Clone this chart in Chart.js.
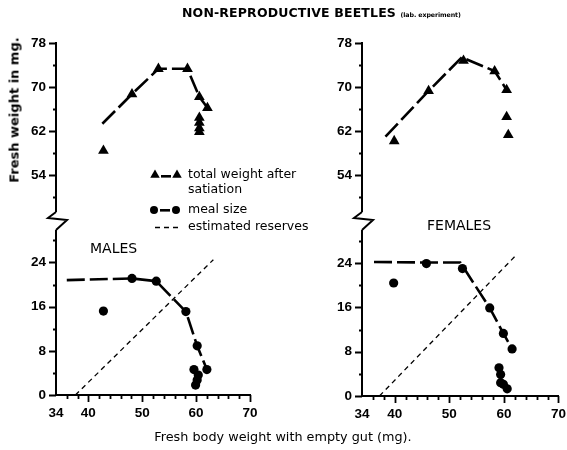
<!DOCTYPE html>
<html>
<head>
<meta charset="utf-8">
<script src="https://cdn.jsdelivr.net/npm/chart.js@4.4.1/dist/chart.umd.min.js"></script>
<style>
  html, body { margin: 0; padding: 0; background: #fff; overflow: hidden; }
  body { position: relative; width: 567px; height: 450px; overflow: hidden; font-family: "DejaVu Sans", sans-serif; color: #000; }
  canvas { position: absolute; top: 0; }
  #males { left: 0; }
  #females { left: 300px; }
  .t { position: absolute; white-space: nowrap; line-height: 1; }
</style>
</head>
<body>
<canvas id="males" width="330" height="450"></canvas>
<canvas id="females" width="276" height="450"></canvas>

<div class="t" style="left:182px;top:7px;font-size:12.5px;font-weight:bold;letter-spacing:0.15px;">NON-REPRODUCTIVE BEETLES <span style="font-size:6.3px;font-weight:bold;letter-spacing:-0.1px;">(lab. experiment)</span></div>
<div class="t" style="left:14px;top:110px;font-size:13px;font-weight:bold;transform:translate(-50%,-50%) rotate(-90deg);">Fresh weight in mg.</div>
<div class="t" style="left:283px;top:437px;font-size:12.8px;transform:translate(-50%,-50%);">Fresh body weight with empty gut (mg).</div>

<div class="t" style="left:188px;top:168px;font-size:12.5px;">total weight after</div>
<div class="t" style="left:188px;top:183px;font-size:12.5px;">satiation</div>
<div class="t" style="left:188px;top:203px;font-size:12.5px;">meal size</div>
<div class="t" style="left:188px;top:220px;font-size:12.5px;">estimated reserves</div>

<div class="t" style="left:90px;top:241px;font-size:14px;">MALES</div>
<div class="t" style="left:427px;top:218px;font-size:14px;">FEMALES</div>

<script>
// Axis ticks and labels
const xTicks = [34, 36, 38, 40, 42, 44, 46, 48, 50, 52, 54, 56, 58, 60, 62, 64, 66, 68, 70];
const xLabels = [34, 40, 50, 60, 70];
const upperTicks = [50, 54, 58, 62, 66, 70, 74, 78];
const upperLabels = [54, 62, 70, 78];
const lowerTicks = [0, 4, 8, 12, 16, 20, 24, 28];
const lowerLabels = [0, 8, 16, 24];

// Males: total weight after satiation (mg)
const maleWeightX = [42.8, 48.1, 53.0, 58.4, 60.6, 62.1, 60.6, 60.6, 60.6, 60.6];
const maleWeightY = [58.4, 68.7, 73.3, 73.3, 68.2, 66.2, 64.4, 63.5, 62.5, 61.8];
const maleWeightFitX = [42.6, 48.1, 53.0, 58.4, 60.6, 62.1];
const maleWeightFitY = [63.3, 68.7, 73.3, 73.3, 68.2, 66.2];
// Males: meal size (mg)
const maleMealX = [42.8, 48.1, 52.6, 58.1, 60.2, 62.0, 59.6, 60.4, 60.2, 59.9];
const maleMealY = [15.2, 21.1, 20.6, 15.1, 8.9, 4.6, 4.6, 3.6, 2.7, 1.8];
const maleMealFitX = [36.0, 48.1, 52.6, 58.1, 60.2, 62.0];
const maleMealFitY = [20.8, 21.1, 20.6, 15.1, 8.9, 4.6];
// Males: estimated reserves
const maleReserveX = [37.6, 63.2];
const maleReserveY = [0, 24.5];

// Females: total weight after satiation (mg)
const femaleWeightX = [39.9, 46.2, 52.6, 58.3, 60.5, 60.5, 60.8];
const femaleWeightY = [60.2, 69.3, 74.8, 72.9, 69.5, 64.6, 61.3];
const femaleWeightFitX = [38.3, 46.2, 52.3, 58.3, 60.5];
const femaleWeightFitY = [61.0, 69.3, 75.4, 72.9, 69.5];
// Females: meal size (mg)
const femaleMealX = [39.8, 45.8, 52.4, 57.4, 59.9, 61.5, 59.1, 59.4, 59.4, 59.9, 60.6];
const femaleMealY = [20.4, 23.9, 23.0, 15.9, 11.3, 8.5, 5.1, 3.9, 2.4, 2.1, 1.3];
const femaleMealFitX = [36.2, 45.8, 52.0, 57.4, 59.9, 61.5];
const femaleMealFitY = [24.2, 24.1, 24.1, 15.9, 11.3, 8.5];
// Females: estimated reserves
const femaleReserveX = [37.2, 62.4];
const femaleReserveY = [0, 25.6];

const pts = (xs, ys) => xs.map((x, i) => ({ x, y: ys[i] }));
const tickFont = { family: '"Liberation Sans", sans-serif', size: 13.5, weight: 'bold' };

// Hand-drawn style tick marks and the broken-axis zigzag
const axisMarks = {
  id: 'axisMarks',
  afterDraw(chart, args, opts) {
    const ctx = chart.ctx;
    const xs = chart.scales.x, yu = chart.scales.yUpper, yl = chart.scales.yLower;
    const ax = chart.chartArea.left;
    const by = xs.top;
    ctx.save();
    ctx.strokeStyle = '#000';
    ctx.lineWidth = 1.8;
    ctx.beginPath();
    xTicks.forEach(v => {
      if (v === 34) return;
      const px = Math.round(xs.getPixelForValue(v)) + 0.5;
      const len = xLabels.includes(v) ? 7 : 4;
      ctx.moveTo(px, by);
      ctx.lineTo(px, by + len);
    });
    upperTicks.forEach(v => {
      const py = Math.round(yu.getPixelForValue(v)) + 0.5;
      const len = upperLabels.includes(v) ? 7 : 3;
      ctx.moveTo(ax, py);
      ctx.lineTo(ax - len, py);
    });
    lowerTicks.forEach(v => {
      const py = Math.round(yl.getPixelForValue(v)) + 0.5;
      const len = lowerLabels.includes(v) ? 7 : 3;
      ctx.moveTo(ax, py);
      ctx.lineTo(ax - len, py);
    });
    ctx.stroke();

    // break in the y axis
    const top = opts.breakTop, bot = opts.breakBottom;
    ctx.fillStyle = '#fff';
    ctx.fillRect(ax - 3, top, 6, bot - top);
    ctx.lineWidth = 2;
    ctx.beginPath();
    ctx.moveTo(ax, top);
    ctx.lineTo(ax - 8, top + 6);
    ctx.lineTo(ax + 11, top + 8);
    ctx.lineTo(ax, bot);
    ctx.stroke();
    ctx.restore();
  }
};

function makePanel(canvasId, d, geom) {
  const fitLine = { showLine: true, pointRadius: 0, borderColor: '#000', borderWidth: 2.6, borderDash: [18, 5], fill: false };
  return new Chart(document.getElementById(canvasId), {
    type: 'scatter',
    data: {
      datasets: [
        Object.assign({ data: pts(d.wFitX, d.wFitY), yAxisID: 'yUpper' }, fitLine),
        { data: pts(d.wX, d.wY), yAxisID: 'yUpper', pointStyle: 'triangle', pointRadius: 6.2,
          backgroundColor: '#000', borderColor: '#000', borderWidth: 0 },
        Object.assign({ data: pts(d.mFitX, d.mFitY), yAxisID: 'yLower' }, fitLine),
        { data: pts(d.mX, d.mY), yAxisID: 'yLower', pointStyle: 'circle', pointRadius: 4.6,
          backgroundColor: '#000', borderColor: '#000', borderWidth: 0 },
        { data: pts(d.rX, d.rY), yAxisID: 'yLower', showLine: true, pointRadius: 0,
          borderColor: '#000', borderWidth: 1.3, borderDash: [5, 4] }
      ]
    },
    options: {
      responsive: false,
      animation: false,
      layout: { padding: { top: 43, right: geom.padRight, left: 0, bottom: 0 } },
      plugins: {
        legend: { display: false },
        tooltip: { enabled: false },
        axisMarks: { breakTop: 212, breakBottom: 230 }
      },
      scales: {
        x: {
          type: 'linear', min: 34, max: 70,
          afterBuildTicks: s => { s.ticks = xTicks.map(v => ({ value: v })); },
          afterFit: s => { s.height = geom.xHeight; },
          ticks: { autoSkip: false, maxRotation: 0, padding: 10, color: '#000', font: tickFont,
                   callback: v => xLabels.includes(v) ? String(v) : '' },
          grid: { display: false, drawTicks: false },
          border: { display: true, color: '#000', width: 2 }
        },
        // the meal-size scale sits below the weight scale in the same stack
        yLower: {
          type: 'linear', position: 'left', stack: 'weight', stackWeight: 174, min: 0, max: 31.5,
          afterBuildTicks: s => { s.ticks = lowerTicks.map(v => ({ value: v })); },
          afterFit: s => { s.width = geom.yWidth; },
          ticks: { autoSkip: false, padding: 10, color: '#000', font: tickFont,
                   callback: v => lowerLabels.includes(v) ? String(v) : '' },
          grid: { display: false, drawTicks: false },
          border: { display: true, color: '#000', width: 2 }
        },
        yUpper: {
          type: 'linear', position: 'left', stack: 'weight', stackWeight: 178, min: 45.6, max: 78,
          afterBuildTicks: s => { s.ticks = upperTicks.map(v => ({ value: v })); },
          afterFit: s => { s.width = geom.yWidth; },
          ticks: { autoSkip: false, padding: 10, color: '#000', font: tickFont,
                   callback: v => upperLabels.includes(v) ? String(v) : '' },
          grid: { display: false, drawTicks: false },
          border: { display: true, color: '#000', width: 2 }
        }
      }
    },
    plugins: [axisMarks, geom.extra].filter(Boolean)
  });
}

// Legend symbols, drawn beside the legend text on the males panel
const legendSymbols = {
  id: 'legendSymbols',
  afterDraw(chart) {
    const ctx = chart.ctx;
    ctx.save();
    ctx.fillStyle = '#000';
    ctx.strokeStyle = '#000';
    Chart.helpers.drawPoint(ctx, { pointStyle: 'triangle', radius: 5.5, borderWidth: 0 }, 155, 175);
    Chart.helpers.drawPoint(ctx, { pointStyle: 'triangle', radius: 5.5, borderWidth: 0 }, 177, 175);
    ctx.fillRect(161, 175, 10, 2.6);
    Chart.helpers.drawPoint(ctx, { pointStyle: 'circle', radius: 4, borderWidth: 0 }, 154, 210);
    Chart.helpers.drawPoint(ctx, { pointStyle: 'circle', radius: 4, borderWidth: 0 }, 176, 210);
    ctx.fillRect(160, 209, 10, 2.6);
    ctx.lineWidth = 1.4;
    ctx.setLineDash([5, 4]);
    ctx.beginPath();
    ctx.moveTo(155, 227.5);
    ctx.lineTo(181, 227.5);
    ctx.stroke();
    ctx.restore();
  }
};

makePanel('males', {
  wX: maleWeightX, wY: maleWeightY, wFitX: maleWeightFitX, wFitY: maleWeightFitY,
  mX: maleMealX, mY: maleMealY, mFitX: maleMealFitX, mFitY: maleMealFitY,
  rX: maleReserveX, rY: maleReserveY
}, { yWidth: 56, xHeight: 55, padRight: 80, extra: legendSymbols });

makePanel('females', {
  wX: femaleWeightX, wY: femaleWeightY, wFitX: femaleWeightFitX, wFitY: femaleWeightFitY,
  mX: femaleMealX, mY: femaleMealY, mFitX: femaleMealFitX, mFitY: femaleMealFitY,
  rX: femaleReserveX, rY: femaleReserveY
}, { yWidth: 62, xHeight: 54, padRight: 1 });
</script>
</body>
</html>
